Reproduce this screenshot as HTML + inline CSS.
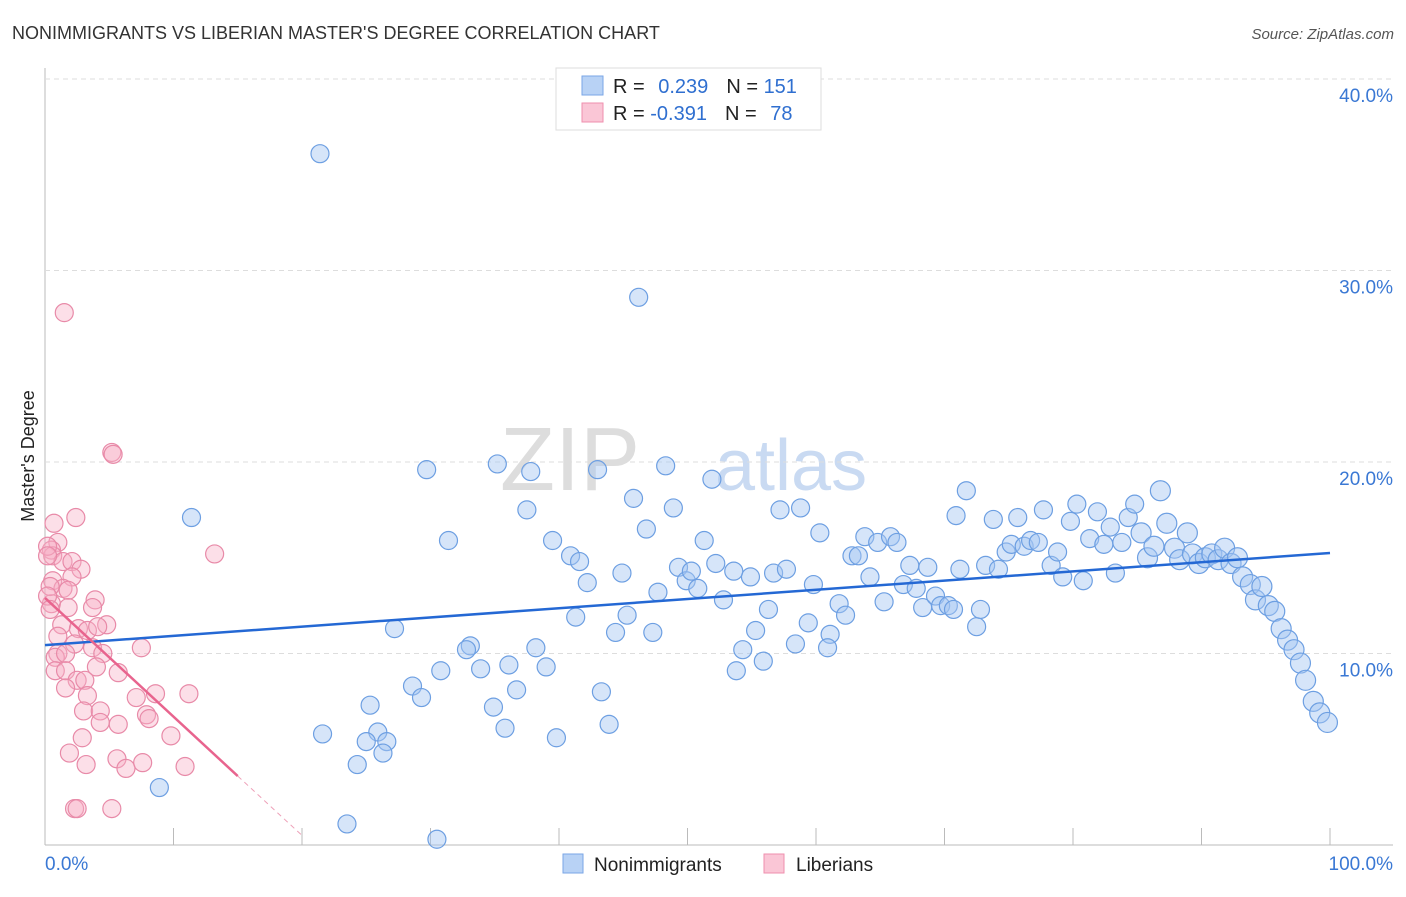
<!DOCTYPE html>
<html><head><meta charset="utf-8"><style>
body{margin:0;background:#fff;font-family:"Liberation Sans",sans-serif}
svg text{font-family:"Liberation Sans",sans-serif}
</style></head><body>
<svg id="chart" width="1406" height="892">
<text x="12" y="39" font-size="18" fill="#333">NONIMMIGRANTS VS LIBERIAN MASTER'S DEGREE CORRELATION CHART</text>
<text x="1394" y="39" font-size="15" fill="#555" text-anchor="end" font-style="italic">Source: ZipAtlas.com</text>
<text x="640" y="490" font-size="90" fill="#ddd" font-family="Liberation Serif" text-anchor="end">ZIP</text>
<text x="715" y="490" font-size="72" fill="#c9daf2">atlas</text>
<text transform="translate(34,456) rotate(-90)" font-size="18" fill="#222" text-anchor="middle">Master's Degree</text>
<g id="grid"></g><g id="pts"></g><g id="lines"></g>
<g>
<rect x="556" y="68" width="265" height="62" fill="#fff" stroke="#ddd"/>
<rect x="582" y="76" width="21" height="19" fill="#b8d2f5" stroke="#7aa6e6"/>
<rect x="582" y="103" width="21" height="19" fill="#fac6d6" stroke="#ef8fae"/>
<text x="613" y="93" font-size="20" fill="#222">R = <tspan fill="#2f6fd0" dx="8">0.239</tspan><tspan fill="#222" dx="18">N = </tspan><tspan fill="#2f6fd0">151</tspan></text>
<text x="613" y="120" font-size="20" fill="#222">R = <tspan fill="#2f6fd0">-0.391</tspan><tspan fill="#222" dx="18">N = </tspan><tspan fill="#2f6fd0" dx="8">78</tspan></text>
</g>
<g>
<rect x="563" y="854" width="20" height="19" fill="#b8d2f5" stroke="#7aa6e6"/>
<text x="594" y="871" font-size="19" fill="#222">Nonimmigrants</text>
<rect x="764" y="854" width="20" height="19" fill="#fac6d6" stroke="#ef8fae"/>
<text x="796" y="871" font-size="19" fill="#222">Liberians</text>
</g>
</svg>
<script>
const yTicks=[10,20,30,40];
const yTickLabels=["10.0%","20.0%","30.0%","40.0%"];
const xTickLabels=["0.0%","100.0%"];
const blueX=[21.4,46.2,11.4,29.7,35.2,37.8,43.0,48.3,51.9,31.4,37.5,39.5,40.9,41.6,42.2,45.8,46.8,48.9,44.9,45.3,44.4,47.3,41.3,47.7,49.3,49.9,50.3,50.8,51.3,52.2,52.8,54.9,53.6,57.2,58.8,60.3,56.7,57.7,56.3,55.3,54.3,53.8,55.9,58.4,59.4,61.1,60.9,59.8,61.8,62.3,62.8,63.3,63.8,64.2,64.8,65.3,65.8,66.3,66.8,67.3,67.8,68.3,68.7,69.3,69.7,70.3,70.7,70.9,71.2,71.7,72.5,72.8,73.2,73.8,74.2,74.8,75.2,75.7,76.2,76.7,77.3,77.7,78.3,78.8,79.2,79.8,80.3,80.8,81.3,81.9,82.4,82.9,83.3,83.8,84.3,84.8,85.3,85.8,86.3,86.8,87.3,87.9,88.3,88.9,89.3,89.8,90.3,90.8,91.3,91.8,92.3,92.8,93.2,93.8,94.2,94.7,95.2,95.7,96.2,96.7,97.2,97.7,98.1,98.7,99.2,99.8,27.2,33.1,32.8,30.8,33.9,36.1,38.2,39.0,28.6,29.3,36.7,43.3,34.9,25.3,21.6,25.9,25.0,26.6,26.3,35.8,39.8,43.9,24.3,8.9,23.5,30.5];
const blueY=[36.1,28.6,17.1,19.6,19.9,19.5,19.6,19.8,19.1,15.9,17.5,15.9,15.1,14.8,13.7,18.1,16.5,17.6,14.2,12.0,11.1,11.1,11.9,13.2,14.5,13.8,14.3,13.4,15.9,14.7,12.8,14.0,14.3,17.5,17.6,16.3,14.2,14.4,12.3,11.2,10.2,9.1,9.6,10.5,11.6,11.0,10.3,13.6,12.6,12.0,15.1,15.1,16.1,14.0,15.8,12.7,16.1,15.8,13.6,14.6,13.4,12.4,14.5,13.0,12.5,12.5,12.3,17.2,14.4,18.5,11.4,12.3,14.6,17.0,14.4,15.3,15.7,17.1,15.6,15.9,15.8,17.5,14.6,15.3,14.0,16.9,17.8,13.8,16.0,17.4,15.7,16.6,14.2,15.8,17.1,17.8,16.3,15.0,15.6,18.5,16.8,15.5,14.9,16.3,15.2,14.7,15.0,15.2,14.9,15.5,14.7,15.0,14.0,13.6,12.8,13.5,12.5,12.2,11.3,10.7,10.2,9.5,8.6,7.5,6.9,6.4,11.3,10.4,10.2,9.1,9.2,9.4,10.3,9.3,8.3,7.7,8.1,8.0,7.2,7.3,5.8,5.9,5.4,5.4,4.8,6.1,5.6,6.3,4.2,3.0,1.1,0.3];
const pinkX=[1.5,5.2,5.3,13.2,0.7,2.4,1.0,0.5,0.6,1.4,2.1,2.8,2.1,0.6,1.4,1.8,0.5,1.8,3.9,3.7,1.3,2.6,3.3,4.8,4.1,1.0,2.3,3.7,4.5,7.5,1.0,0.8,1.6,0.8,1.6,5.7,4.0,2.5,3.1,1.6,3.3,7.1,8.6,11.2,3.0,4.3,4.3,5.7,7.9,8.1,9.8,2.9,1.9,3.2,5.6,6.3,7.6,10.9,2.3,2.5,5.2,0.2,0.2,0.4,0.2,0.4];
const pinkY=[27.8,20.5,20.4,15.2,16.8,17.1,15.8,15.4,15.1,14.8,14.8,14.4,14.0,13.8,13.4,13.3,12.6,12.4,12.8,12.4,11.5,11.3,11.2,11.5,11.4,10.9,10.5,10.3,10.0,10.3,10.0,9.8,10.0,9.1,9.1,9.0,9.3,8.6,8.6,8.2,7.8,7.7,7.9,7.9,7.0,7.0,6.4,6.3,6.8,6.6,5.7,5.6,4.8,4.2,4.5,4.0,4.3,4.1,1.9,1.9,1.9,15.6,15.1,13.5,13.0,12.3];
const blueTrend=[10.44,15.25];
const pinkTrend=[12.9,-0.62];
const NS='http://www.w3.org/2000/svg';
const sx=v=>45+v*12.85, sy=v=>845-v*19.15;
function mk(tag,a,parent){const e=document.createElementNS(NS,tag);for(const k in a)e.setAttribute(k,a[k]);document.getElementById(parent).appendChild(e);return e;}
// axes
let ax=mk('line',{x1:45,y1:68,x2:45,y2:845,stroke:'#bbb'},'grid');


let bx=mk('line',{x1:45,y1:845,x2:1393,y2:845,stroke:'#bbb'},'grid');


let tg=mk('line',{x1:45,y1:79,x2:1393,y2:79,stroke:'#ddd','stroke-dasharray':'5,4'},'grid');


yTicks.forEach((t,i)=>{
 const g=mk('line',{x1:45,y1:sy(t),x2:1393,y2:sy(t),stroke:'#ddd','stroke-dasharray':'5,4'},'grid');
 
 
 const l=mk('text',{x:1393,y:sy(t)+23,'font-size':19,fill:'#3a78d4','text-anchor':'end'},'grid');
 l.textContent=yTickLabels[i];
 
 
});
for(let v=10;v<=100;v+=10){
 const t=mk('line',{x1:sx(v),y1:828,x2:sx(v),y2:845,stroke:'#bbb'},'grid');
 
 
}
[[0,'start',45],[100,'end',1393]].forEach((d,i)=>{
 const l=mk('text',{x:d[2],y:870,'font-size':19,fill:'#3a78d4','text-anchor':d[1]},'grid');
 l.textContent=xTickLabels[i];
 
 
});
blueX.forEach((x,i)=>{
 const c=mk('circle',{cx:sx(x),cy:sy(blueY[i]),r:x>85?10:9,fill:'rgba(165,198,242,0.45)',stroke:'#6d9fe2','stroke-width':1.2},'pts');
 
 
});
pinkX.forEach((x,i)=>{
 const c=mk('circle',{cx:sx(x),cy:sy(pinkY[i]),r:9,fill:'rgba(247,175,198,0.4)',stroke:'#e88aa8','stroke-width':1.2},'pts');
 
 
});
let bl=mk('line',{x1:sx(0),y1:sy(blueTrend[0]),x2:sx(100),y2:sy(blueTrend[1]),stroke:'#2468d4','stroke-width':2.5},'lines');


const pf=x=>pinkTrend[0]+pinkTrend[1]*x;
let pl=mk('line',{x1:sx(0),y1:sy(pf(0)),x2:sx(15),y2:sy(pf(15)),stroke:'#e8648e','stroke-width':2.5},'lines');


let pd=mk('line',{x1:sx(15),y1:sy(pf(15)),x2:sx(20),y2:sy(pf(20)),stroke:'#eea0b8','stroke-width':1,'stroke-dasharray':'5,4'},'lines');


</script>
</body></html>
